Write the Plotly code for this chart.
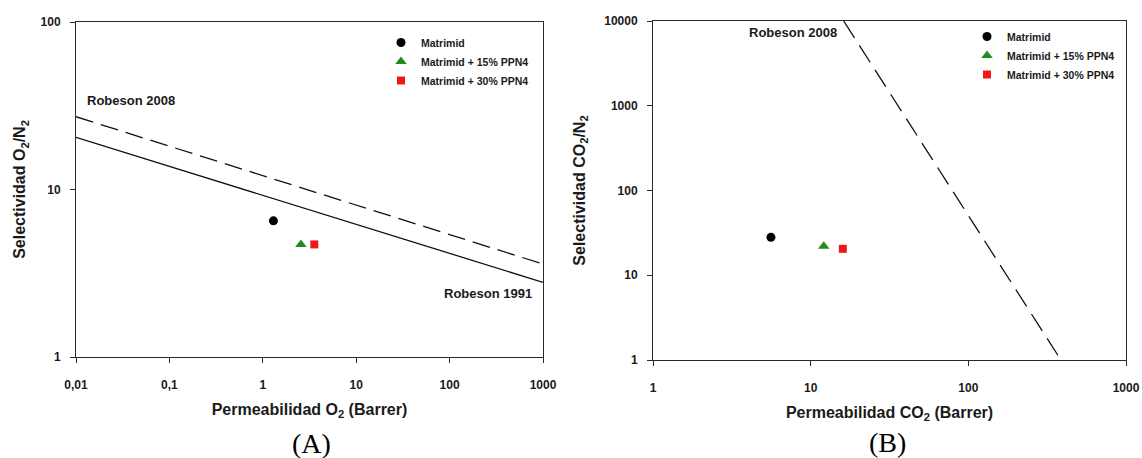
import plotly.graph_objects as go

# ---------------- data ----------------
series_names = ["Matrimid", "Matrimid + 15% PPN4", "Matrimid + 30% PPN4"]
series_colors = ["#000000", "#1e8c1e", "#ee1a1a"]
series_symbols = ["circle", "triangle-up", "square"]

o2_perm = [1.30, 2.56, 3.56]          # Barrer
o2n2_sel = [6.5, 4.7, 4.7]
co2_perm = [5.6, 12.1, 16.0]          # Barrer
co2n2_sel = [28.0, 22.0, 20.5]

robeson1991_o2_x = [0.01, 1000]
robeson1991_o2_y = [20.5, 2.79]
robeson2008_o2_x = [0.01, 1000]
robeson2008_o2_y = [27.2, 3.59]
robeson2008_co2_x = [16.2, 373]
robeson2008_co2_y = [10000, 1.11]

xa_tickvals = [0.01, 0.1, 1, 10, 100, 1000]
xa_ticktext = ["0,01", "0,1", "1", "10", "100", "1000"]
ya_tickvals = [1, 10, 100]
ya_ticktext = ["1", "10", "100"]
xb_tickvals = [1, 10, 100, 1000]
xb_ticktext = ["1", "10", "100", "1000"]
yb_tickvals = [1, 10, 100, 1000, 10000]
yb_ticktext = ["1", "10", "100", "1000", "10000"]

# ---------------- style ----------------
W, H = 1142, 458
FONT = "Liberation Sans, Arial, sans-serif"
TXT = "#1a1a1a"
AX = "#2a2a2a"

fig = go.Figure()

# panel A lines
fig.add_trace(go.Scatter(x=robeson1991_o2_x, y=robeson1991_o2_y, mode="lines",
                         line=dict(color="#111111", width=1.3), showlegend=False,
                         xaxis="x", yaxis="y", hoverinfo="skip"))
fig.add_trace(go.Scatter(x=robeson2008_o2_x, y=robeson2008_o2_y, mode="lines",
                         line=dict(color="#111111", width=1.3, dash="18px,8px"), showlegend=False,
                         xaxis="x", yaxis="y", hoverinfo="skip"))
# panel B line
fig.add_trace(go.Scatter(x=robeson2008_co2_x, y=robeson2008_co2_y, mode="lines",
                         line=dict(color="#111111", width=1.3, dash="20px,9px"), showlegend=False,
                         xaxis="x2", yaxis="y2", hoverinfo="skip"))

sizes = [9, 10, 8]
for i, name in enumerate(series_names):
    fig.add_trace(go.Scatter(x=[o2_perm[i]], y=[o2n2_sel[i]], mode="markers", name=name,
                             marker=dict(color=series_colors[i], symbol=series_symbols[i], size=sizes[i]),
                             xaxis="x", yaxis="y", legend="legend"))
for i, name in enumerate(series_names):
    fig.add_trace(go.Scatter(x=[co2_perm[i]], y=[co2n2_sel[i]], mode="markers", name=name,
                             marker=dict(color=series_colors[i], symbol=series_symbols[i], size=sizes[i]),
                             xaxis="x2", yaxis="y2", legend="legend2"))

def px_x(p):
    return p / W

def px_y(p):
    return 1 - p / H

tickfont = dict(family=FONT, size=12, color=TXT, weight="bold")
titlefont = dict(family=FONT, size=16, color=TXT, weight="bold")

common_axis = dict(type="log", showgrid=False, zeroline=False, showline=True, linecolor=AX,
                   linewidth=1, mirror=True, ticks="outside", ticklen=5, tickwidth=1,
                   tickcolor=AX, tickfont=tickfont, tickmode="array", automargin=False)

legend_font = dict(family=FONT, size=10.5, color=TXT, weight="bold")

fig.update_layout(
    width=W, height=H,
    margin=dict(l=0, r=0, t=0, b=0, autoexpand=False),
    paper_bgcolor="white", plot_bgcolor="white",
    xaxis=dict(common_axis, domain=[px_x(76), px_x(543)], range=[-2, 3], anchor="y",
               tickvals=xa_tickvals, ticktext=xa_ticktext, ticklabelstandoff=12,
               title=dict(text="Permeabilidad O<sub>2</sub> (Barrer)", font=titlefont, standoff=12)),
    yaxis=dict(common_axis, domain=[px_y(357), px_y(22)], range=[0, 2], anchor="x",
               tickvals=ya_tickvals, ticktext=ya_ticktext, ticklabelstandoff=7,
               title=dict(text="Selectividad O<sub>2</sub>/N<sub>2</sub>", font=titlefont, standoff=10)),
    xaxis2=dict(common_axis, domain=[px_x(653), px_x(1126)], range=[0, 3], anchor="y2",
                tickvals=xb_tickvals, ticktext=xb_ticktext, ticklabelstandoff=12,
                title=dict(text="Permeabilidad CO<sub>2</sub> (Barrer)", font=titlefont, standoff=12)),
    yaxis2=dict(common_axis, domain=[px_y(360), px_y(21)], range=[0, 4], anchor="x2",
                tickvals=yb_tickvals, ticktext=yb_ticktext, ticklabelstandoff=7,
                title=dict(text="Selectividad CO<sub>2</sub>/N<sub>2</sub>", font=titlefont, standoff=14)),
    legend=dict(x=px_x(381), y=px_y(28), xanchor="left", yanchor="top", bgcolor="rgba(0,0,0,0)",
                font=legend_font, borderwidth=0, itemwidth=30),
    legend2=dict(x=px_x(967), y=px_y(22), xanchor="left", yanchor="top", bgcolor="rgba(0,0,0,0)",
                 font=legend_font, borderwidth=0, itemwidth=30),
    showlegend=True,
)

label_font = dict(family=FONT, size=13, color=TXT, weight="bold")
fig.add_annotation(text="Robeson 2008", x=-1.904, y=1.534, xref="x", yref="y",
                   xanchor="left", yanchor="middle", showarrow=False, font=label_font)
fig.add_annotation(text="Robeson 1991", x=1.919, y=0.382, xref="x", yref="y",
                   xanchor="left", yanchor="middle", showarrow=False, font=label_font)
fig.add_annotation(text="Robeson 2008", x=0.888, y=3.87, xref="x2", yref="y2",
                   xanchor="center", yanchor="middle", showarrow=False, font=label_font)

cap_font = dict(family="Liberation Serif, Times New Roman, serif", size=28, color="#000000")
fig.add_annotation(text="(A)", x=px_x(312), y=px_y(443), xref="paper", yref="paper",
                   xanchor="center", yanchor="middle", showarrow=False, font=cap_font)
fig.add_annotation(text="(B)", x=px_x(887), y=px_y(442), xref="paper", yref="paper",
                   xanchor="center", yanchor="middle", showarrow=False, font=cap_font)

fig.write_html(
    "out.html",
    config={"displayModeBar": False},
    post_script="document.body.style.margin='0px';document.body.style.overflow='hidden';",
)
